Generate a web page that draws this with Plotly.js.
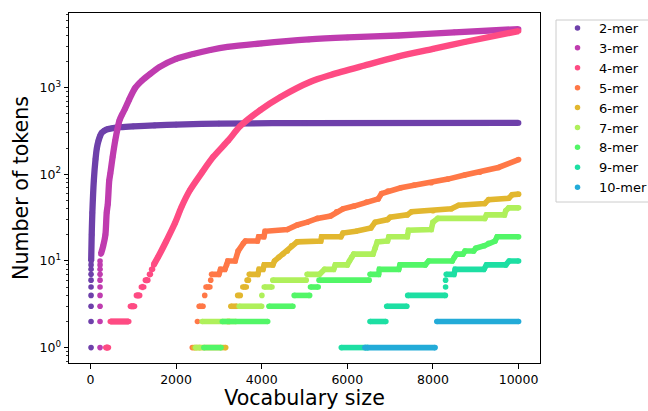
<!DOCTYPE html>
<html>
<head>
<meta charset="utf-8">
<script src="https://cdn.plot.ly/plotly-3.0.1.min.js"></script>
<style>html,body{margin:0;padding:0;background:#fff}#chart{width:648px;height:411px}</style>
</head>
<body>
<div id="chart"></div>
<script>
// Series names and colours
const seriesNames = ['2-mer','3-mer','4-mer','5-mer','6-mer','7-mer','8-mer','9-mer','10-mer'];
const seriesColors = ['#6e40aa','#bf3caf','#fe4b83','#ff7847','#e2b72f','#aff05b','#52f667','#1ddfa3','#23abd8'];

// Vocabulary size (x) and number of tokens (y); null separates runs of points
const k2_x = [15,null,15,null,15,null,15,null,15,null,15,null,15,null,15,null,15,null,
  18,30,45,80,120,150,190,230,270,320,400,500,700,1000,1500,2000,3000,5000,10000];
const k2_y = [1,null,2,null,3,null,4,null,5,null,6,null,7,null,8,null,9,null,
  10,20,36,85,150,200,245,280,303,318,332,340,350,358,367,375,385,390,392];

const k3_x = [225,null,225,null,225,null,225,null,225,null,225,null,225,null,225,null,225,null,225,null,
  245,300,350,380,405,440,465,520,580,630,680,740,800,900,1050,1200,1400,1620,2000,2400,2800,3200,4000,5100,6000,7200,8500,10000];
const k3_y = [1,null,2,null,3,null,4,null,5,null,6,null,7,null,8,null,9,null,10,null,
  12,15,20,36,45,85,102,160,246,330,420,490,560,720,1000,1200,1450,1740,2150,2450,2720,2950,3250,3600,3800,4000,4350,4750];

const k4_x = [360,420,null,465,895,null,935,1030,null,1075,1150,null,1190,1245,null,1285,1340,null,1380,1400,null,1430,1450,null,
  1478,1577,1773,1970,2127,2320,2600,2870,3220,3500,3966,4440,5140,5610,6400,7175,8000,8740,10000];
const k4_y = [1,1,null,2,2,null,3,3,null,4,4,null,5,5,null,6,6,null,7,7,null,8,8,null,
  9,11,17,27,42,65,104,159,246,360,550,780,1170,1400,1800,2280,2800,3370,4500];

const k5_x = [2380,null,2500,null,2540,2630,null,2670,null,2700,2790,null,2810,null,
  2830,3000,3040,3140,3180,3210,3380,3450,3575,3620,3900,3930,4050,4080,4600,4830,5065,5300,5610,5750,5900,6160,6450,6720,6800,6950,7250,7560,7960,8350,8740,9100,9530,10000];
const k5_y = [1,null,2,null,3,3,null,4,null,5,5,null,6,null,
  7,7,8,8,9,10,10,13,16,17,17,19,19,22,23,26,28,31,33,37,40,43,48,52,60,64,70,75,80,88,98,106,120,148];

const k6_x = [2420,3160,null,3200,3250,null,3280,3420,null,3440,3500,null,3560,3640,null,3660,3690,null,
  3710,3910,3940,4030,4060,4260,4300,4400,4500,4600,4700,4830,5380,5400,5850,5900,6200,6550,6650,6940,7000,7400,7500,8000,8430,8600,9210,9300,9770,9850,10000];
const k6_y = [1,1,null,2,2,null,3,3,null,4,4,null,5,5,null,6,6,null,
  7,7,8,8,9,9,10,11,12,13,15,16.6,17,19,19,21,22,24,28,30,32,34,37,38,40,44,46,51,53,58,59];

const k7_x = [2460,2560,null,2610,3400,null,3475,4000,null,4005,null,4060,4240,null,4260,5040,null,
  5060,5350,5470,5680,5720,6000,6050,6100,6150,6600,6650,6700,6940,6970,7400,7430,7960,8000,8115,9210,9250,9670,9700,9770,10000];
const k7_y = [1,1,null,2,2,null,3,3,null,4,null,5,5,null,6,6,null,
  7,7,8,8,9,9,10,11,12,12,14,16.6,17,19,19,22.6,23,28,31,31,34,34,38,41,41];

const k8_x = [2650,3050,null,3080,4140,null,4170,4730,null,4760,5120,null,5140,5320,null,5340,6510,null,
  6530,6730,6750,7200,7230,7820,7900,8450,8500,8550,8700,8750,8950,9000,9200,9300,9450,9500,10000];
const k8_y = [1,1,null,2,2,null,3,3,null,4,4,null,5,5,null,6,6,null,
  7,7,8,8,9,9,10,10,11,12,12,13,13,14,15,16,17,19,19];

const k9_x = [5860,6480,null,6530,6900,null,6920,7390,null,7410,8290,null,8295,null,8295,null,
  8310,8490,8520,9190,9250,9700,9780,10000];
const k9_y = [1,1,null,2,2,null,3,3,null,4,4,null,5,null,6,null,
  7,7,8,8,9,9,10,10];

const k10_x = [6410,8050,null,8090,10000];
const k10_y = [1,1,null,2,2];

const xTickVals = [0,2000,4000,6000,8000,10000];
const yTickVals = [1,10,100,1000];
const yTickText = ['10<sup>0</sup>','10<sup>1</sup>','10<sup>2</sup>','10<sup>3</sup>'];
const yMinorVals = [0.7,0.8,0.9,2,3,4,5,6,7,8,9,20,30,40,50,60,70,80,90,200,300,400,500,600,700,800,900,2000,3000,4000,5000,6000,7000];

const allX = [k2_x,k3_x,k4_x,k5_x,k6_x,k7_x,k8_x,k9_x,k10_x];
const allY = [k2_y,k3_y,k4_y,k5_y,k6_y,k7_y,k8_y,k9_y,k10_y];

const MS = 5.6;
const traces = [];
allX.forEach((xs, i) => {
  const smooth = i < 3;
  traces.push({
    type: 'scatter', mode: 'lines+markers', x: xs, y: allY[i],
    name: seriesNames[i], showlegend: false, connectgaps: false,
    line: smooth ? {color: seriesColors[i], width: 6.3, shape: 'spline', smoothing: 0.8}
                 : {color: seriesColors[i], width: MS},
    marker: {color: seriesColors[i], size: MS, line: {width: 0}},
    hoverinfo: 'skip'
  });
});
seriesNames.forEach((n, i) => {
  traces.push({
    type: 'scatter', mode: 'markers', x: [null], y: [null], name: n,
    marker: {color: seriesColors[i], size: 5.5, line: {width: 0}}, showlegend: true
  });
});

const titleFont = {family: 'DejaVu Sans, sans-serif', size: 20.6, color: '#000'};
const tickFont = {family: 'DejaVu Sans, sans-serif', size: 12.5, color: '#000'};
const layout = {
  width: 648, height: 411,
  margin: {l: 69, r: 108, t: 13, b: 48, autoexpand: false},
  paper_bgcolor: '#fff', plot_bgcolor: '#fff',
  font: {family: 'DejaVu Sans, sans-serif', color: '#000'},
  showlegend: true,
  xaxis: {
    range: [-500, 10500], tickvals: xTickVals, tickformat: 'd',
    ticks: 'outside', ticklen: 4.5, tickwidth: 1, tickcolor: '#000',
    showline: true, linecolor: '#000', linewidth: 1, mirror: true,
    showgrid: false, zeroline: false,
    tickfont: tickFont,
    title: {text: 'Vocabulary size', font: titleFont, standoff: 5}
  },
  yaxis: {
    type: 'log', range: [-0.178, 3.862],
    tickvals: yTickVals, ticktext: yTickText,
    ticks: 'outside', ticklen: 4.5, tickwidth: 1, tickcolor: '#000',
    minor: {tickmode: 'array', tickvals: yMinorVals, ticks: 'outside', ticklen: 2.5, tickwidth: 0.8, tickcolor: '#000', showgrid: false},
    showline: true, linecolor: '#000', linewidth: 1, mirror: true,
    showgrid: false, zeroline: false,
    tickfont: tickFont,
    title: {text: 'Number of tokens', font: titleFont, standoff: 5}
  },
  legend: {
    x: 1.034, xanchor: 'left', y: 1.0, yanchor: 'top',
    bgcolor: 'rgba(0,0,0,0)', borderwidth: 0,
    font: {family: 'DejaVu Sans, sans-serif', size: 13, color: '#000'},
    itemwidth: 33
  },
  shapes: [{
    type: 'rect', xref: 'paper', yref: 'paper',
    x0: 1.034, x1: 1.30, y0: 0.46, y1: 0.98,
    line: {color: '#cccccc', width: 1}, fillcolor: '#ffffff', layer: 'below'
  }],
  hovermode: false
};

Plotly.newPlot('chart', traces, layout, {staticPlot: true, displayModeBar: false});
</script>
</body>
</html>
